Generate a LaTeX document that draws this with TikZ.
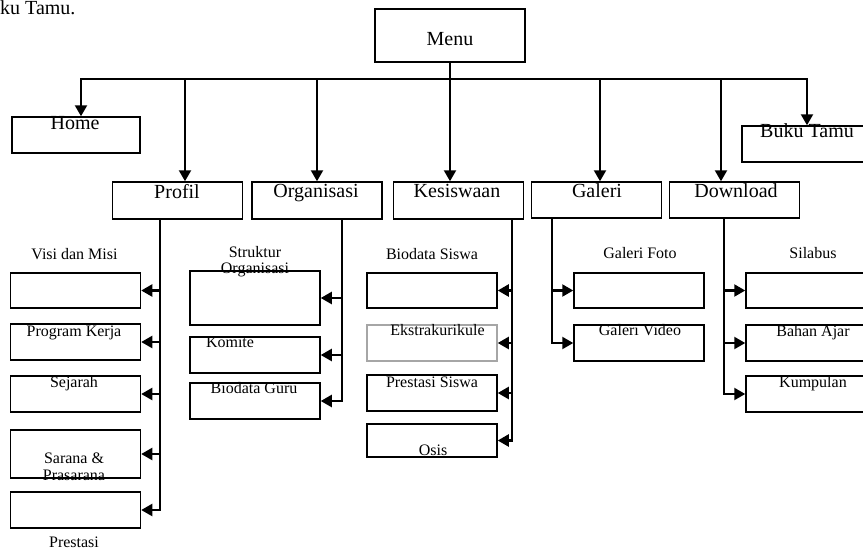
\documentclass[tikz,border=0pt]{standalone}
\usepackage{fontspec}
\setmainfont{Liberation Serif}
\usetikzlibrary{arrows.meta}

\tikzset{
    box/.style={draw, line width=1.5pt, minimum width=130pt, minimum height=36pt, inner sep=0pt},
    line/.style={line width=2.2pt},
    arr/.style={line width=2.2pt, -{Triangle[length=11pt, width=12pt]}},
    mtxt/.style={anchor=base, inner sep=0pt, font=\fontsize{20}{22}\selectfont},
    stxt/.style={anchor=base, inner sep=0pt, font=\fontsize{16}{18}\selectfont},
}

\begin{document}
\begin{tikzpicture}[x=1pt, y=-1pt]
    \useasboundingbox (0, 0) rectangle (863, 550);
    \node[anchor=base west, inner sep=0pt, font=\fontsize{20}{22}\selectfont] (cut) at (0, 14) {ku Tamu.};

    \node[box, minimum width=150pt, minimum height=53pt] (menu) at (450, 35.5) {};
    \node[mtxt] (tmenu) at (450, 45) {Menu};
    \coordinate (bus) at (0, 79);

    \node[box, minimum width=128pt] (home) at (76, 135) {};
    \node[mtxt] (thome) at (75, 129) {Home};
    \node[box, minimum width=140pt] (buku) at (812, 144) {};
    \node[mtxt] (tbuku) at (807, 137) {Buku Tamu};

    \node[box, minimum height=37pt] (profil) at (177.5, 200.5) {};
    \node[mtxt] (tprofil) at (177, 198) {Profil};
    \node[box, minimum height=37pt] (org) at (317, 200.5) {};
    \node[mtxt] (torg) at (316, 197) {Organisasi};
    \node[box, minimum height=37pt] (kes) at (458.5, 200.5) {};
    \node[mtxt] (tkes) at (457, 197) {Kesiswaan};
    \node[box] (gal) at (596.5, 200) {};
    \node[mtxt] (tgal) at (597, 197) {Galeri};
    \node[box] (down) at (734.5, 200) {};
    \node[mtxt] (tdown) at (736, 197) {Download};

    \coordinate (hx) at ([xshift=5pt]home.north);
    \coordinate (bx) at ([xshift=-5pt]buku.north);
    \draw[arr] (bus -| menu.south) -| (hx);
    \draw[arr] (bus -| menu.south) -| (bx);
    \draw[arr] (menu.south) -- (menu.south |- kes.north);
    \coordinate (ap) at ([xshift=7.5pt]profil.north);
    \coordinate (ag) at ([xshift=3.5pt]gal.north);
    \coordinate (ad) at ([xshift=-13.5pt]down.north);
    \draw[arr] (ap |- bus) -- (ap);
    \draw[arr] (org.north |- bus) -- (org.north);
    \draw[arr] (ag |- bus) -- (ag);
    \draw[arr] (ad |- bus) -- (ad);

    \begin{scope}
        \node[box, minimum height=35pt] (vm) at (75.5, 290.5) {};
        \node[box] (pk) at (75.5, 342) {};
        \node[box] (sj) at (75.5, 394) {};
        \node[box, minimum height=48pt] (sp) at (75.5, 454) {};
        \node[box] (pr) at (75.5, 510) {};
        \node[stxt] (tvm) at (74.5, 259) {Visi dan Misi};
        \node[stxt] (tpk) at (74, 336) {Program Kerja};
        \node[stxt] (tsj) at (74, 387) {Sejarah};
        \node[stxt] (tsp) at (74, 463) {Sarana \&};
        \node[stxt] (tsp2) at (74, 480) {Prasarana};
        \node[stxt] (tpr) at (74, 547) {Prestasi};
        \coordinate (pt) at ([xshift=-17.5pt]profil.south);
        \draw[arr] (pt) |- (pr.east);
        \foreach \k in {vm, pk, sj, sp}
            \draw[arr] (pt |- \k.east) -- (\k.east);
    \end{scope}

    \begin{scope}
        \node[box, minimum height=54pt] (so) at (255, 298) {};
        \node[box] (km) at (255, 355) {};
        \node[box] (bg) at (255, 401) {};
        \node[stxt] (tso) at (255, 257) {Struktur};
        \node[stxt] (tso2) at (255, 273) {Organisasi};
        \node[stxt] (tkm) at (230, 347) {Komite};
        \node[stxt] (tbg) at (254, 393) {Biodata Guru};
        \coordinate (ot) at ([xshift=25pt]org.south);
        \draw[arr] (ot) |- (bg.east);
        \foreach \k in {so, km}
            \draw[arr] (ot |- \k.east) -- (\k.east);
    \end{scope}

    \begin{scope}
        \node[box, minimum height=35pt] (bs) at (432, 290.5) {};
        \node[box, draw=gray!70] (ek) at (432, 343) {};
        \node[box] (ps) at (432, 393) {};
        \node[box, minimum height=33pt] (os) at (432, 440.5) {};
        \node[stxt] (tbs) at (432, 259) {Biodata Siswa};
        \node[stxt] (tek) at (437.5, 335) {Ekstrakurikule};
        \node[stxt] (tps) at (432, 387) {Prestasi Siswa};
        \node[stxt] (tos) at (433, 455) {Osis};
        \coordinate (kt) at ([xshift=53.5pt]kes.south);
        \draw[arr] (kt) |- (os.east);
        \foreach \k in {bs, ek, ps}
            \draw[arr] (kt |- \k.east) -- (\k.east);
    \end{scope}

    \begin{scope}
        \node[box, minimum height=35pt] (gf) at (639, 290.5) {};
        \node[box] (gv) at (639, 343) {};
        \node[stxt] (tgf) at (640, 258) {Galeri Foto};
        \node[stxt] (tgv) at (640, 335) {Galeri Video};
        \coordinate (gt) at ([xshift=-44.5pt]gal.south);
        \draw[arr] (gt) |- (gv.west);
        \draw[arr] (gt |- gf.west) -- (gf.west);
    \end{scope}

    \begin{scope}
        \node[box, minimum width=136pt, minimum height=35pt] (sl) at (814, 290.5) {};
        \node[box, minimum width=136pt] (ba) at (814, 343) {};
        \node[box, minimum width=136pt] (ku) at (814, 394) {};
        \node[stxt] (tsl) at (813, 258) {Silabus};
        \node[stxt] (tba) at (813, 336) {Bahan Ajar};
        \node[stxt] (tku) at (813, 387) {Kumpulan};
        \coordinate (dt) at ([xshift=-10.5pt]down.south);
        \draw[arr] (dt) |- (ku.west);
        \foreach \k in {sl, ba}
            \draw[arr] (dt |- \k.west) -- (\k.west);
    \end{scope}
\end{tikzpicture}
\end{document}
